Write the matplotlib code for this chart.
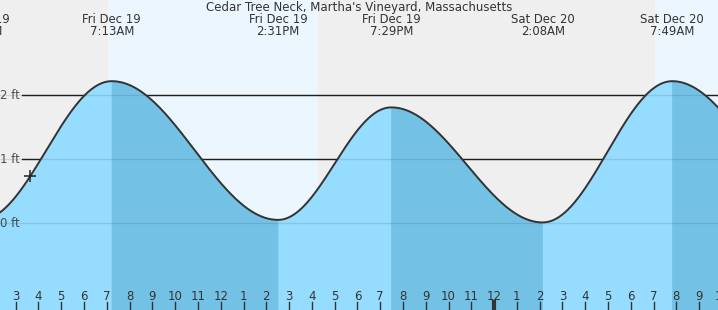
import numpy as np
import matplotlib
matplotlib.use("Agg")
from matplotlib import pyplot as plt

# tide events, hours since Fri Dec 19 00:00
ev_hours = [1.45, 7.217, 14.517, 19.483, 26.133, 31.817, 38.75]
ev_feet = [0.05, 2.22, 0.05, 1.81, 0.01, 2.22, 0.10]
ev_days = ["Fri Dec 19", "Fri Dec 19", "Fri Dec 19", "Fri Dec 19",
           "Sat Dec 20", "Sat Dec 20", "Sat Dec 20"]
ev_times = ["1:27AM", "7:13AM", "2:31PM", "7:29PM", "2:08AM", "7:49AM", "2:45PM"]

# daylight (sunrise, sunset) in hours
day_spans = [(7.07, 16.25), (31.07, 40.25)]

now_hour = 3.63  # the "+" marker

ft_lines = [0, 1, 2]
hour_ticks = list(range(3, 35))

title = "Cedar Tree Neck, Martha's Vineyard, Massachusetts"

GRAY = "#efefef"
DAY = "#ecf6fe"
LIGHT = "#96dcfe"
DARK = "#73c2e6"
INK = "#333333"

px = 22.78  # pixels per hour
x0, x1 = 2.31, 2.31 + 718 / px
y0, y1 = -1.36, 3.49

fig = plt.figure(figsize=(7.18, 3.10), dpi=100)
ax = fig.add_axes([0, 0, 1, 1])
ax.set_xlim(x0, x1)
ax.set_ylim(y0, y1)
ax.axis("off")
ax.add_patch(plt.Rectangle((x0, y0), x1 - x0, y1 - y0, color=GRAY, zorder=0))
for a, b in day_spans:
    ax.axvspan(a, b, color=DAY, lw=0, zorder=0.5)

# tide curve: half-cosine between successive high/low events
t = np.linspace(x0, x1, 2000)
h = np.zeros_like(t)
falling = np.zeros_like(t, dtype=bool)
for i in range(len(ev_hours) - 1):
    ta, tb = ev_hours[i], ev_hours[i + 1]
    ha, hb = ev_feet[i], ev_feet[i + 1]
    m = (t >= ta) & (t <= tb)
    f = (t[m] - ta) / (tb - ta)
    h[m] = ha + (hb - ha) * (1 - np.cos(np.pi * f)) / 2
    if hb < ha:
        falling[m] = True

# reference lines: dark on background, faint over the water
for v in ft_lines:
    ax.plot([x0 + 22 / px, x1], [v, v], color="#222222", lw=1, zorder=1)
    ax.plot([x0, x1], [v, v], color="#000000", lw=1, alpha=0.1, zorder=2.5)
    ax.text(x0 + 20 / px, v, f"{v} ft", ha="right", va="center",
            fontsize=8.5, color=INK, alpha=0.85, zorder=4)

# light (flood) first, then dark (ebb) on top so there is no seam
ax.fill_between(t, y0, h, color=LIGHT, lw=0, zorder=2)
ax.fill_between(t, y0, h, where=falling, color=DARK, ec=DARK, lw=0.5, zorder=2.1)
ax.plot(t, h, color=INK, lw=1.4, zorder=3)

now_ft = np.interp(now_hour, t, h)
ax.plot(now_hour, now_ft, marker="+", ms=9, mew=1.1, color="#222222", zorder=4)

# hour ticks along the bottom
xt = ax.get_xaxis_transform()
for hr in hour_ticks:
    lab = hr % 12 or 12
    ax.text(hr, 0.045, str(lab), transform=xt, ha="center", va="center",
            fontsize=8.5, color=INK, zorder=5)
    ax.plot([hr, hr], [0, 0.026], transform=xt, color=INK,
            lw=3 if hr == 24 else 1, zorder=5)

# event labels on top
for hr, d, tm in zip(ev_hours, ev_days, ev_times):
    ax.text(hr, 1 - 19.7 / 310, d, transform=xt, ha="center", va="center",
            fontsize=8.4, color=INK, zorder=5)
    ax.text(hr, 1 - 31.5 / 310, tm, transform=xt, ha="center", va="center",
            fontsize=8.4, color=INK, zorder=5)

ax.text(0.5, 1 - 7.5 / 310, title, transform=ax.transAxes, ha="center",
        va="center", fontsize=8.5, color=INK, zorder=5)

fig.savefig("out.png", dpi=100)
